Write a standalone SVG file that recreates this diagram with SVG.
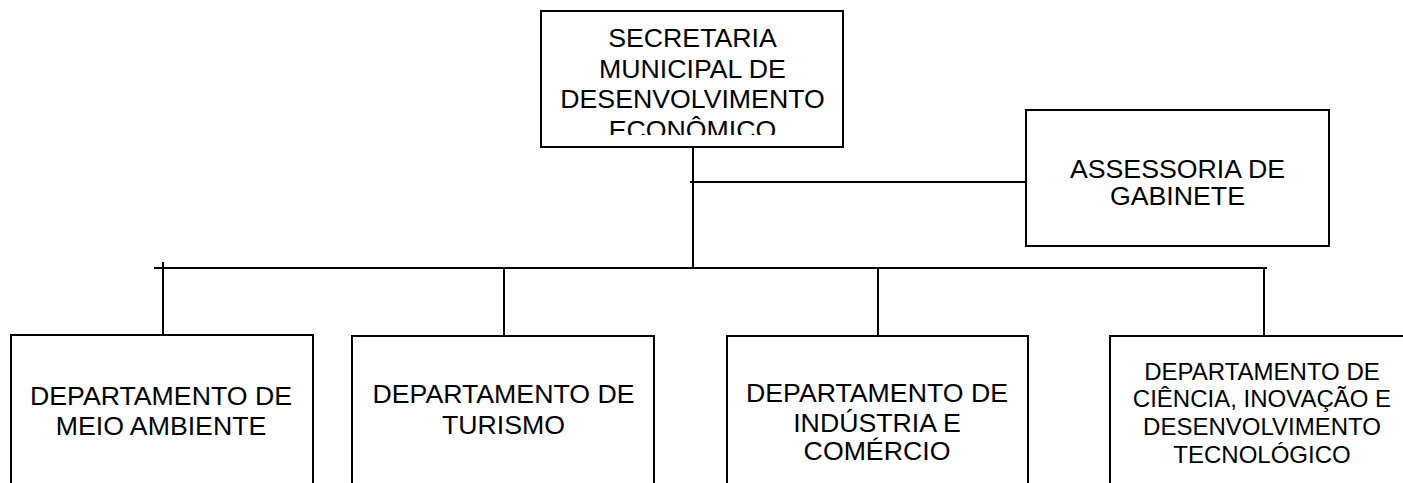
<svg xmlns="http://www.w3.org/2000/svg" width="1403" height="483" viewBox="0 0 1403 483">
<style>
.box{fill:#fff;stroke:#000;stroke-width:2}
.ln{stroke:#000;stroke-width:2;fill:none}
text{font-family:"Liberation Sans",Arial,sans-serif;font-size:26.7px;fill:#000;text-anchor:middle}
.sm{font-size:24px}
</style>
<defs>
<clipPath id="clipTop"><rect x="542" y="12" width="300" height="123"/></clipPath>
</defs>
<g id="connectors">
<line class="ln" x1="693" y1="147" x2="693" y2="268"/>
<line class="ln" x1="690" y1="182" x2="1026" y2="182"/>
<line class="ln" x1="154" y1="268" x2="1267" y2="268"/>
<line class="ln" x1="163" y1="262" x2="163" y2="335"/>
<line class="ln" x1="504" y1="268" x2="504" y2="336"/>
<line class="ln" x1="878" y1="268" x2="878" y2="336"/>
<line class="ln" x1="1264" y1="268" x2="1264" y2="335"/>
</g>
<g id="secretaria">
<rect class="box" x="541" y="11" width="302" height="136"/>
<g clip-path="url(#clipTop)">
<text x="692.5" y="47">SECRETARIA</text>
<text x="692.5" y="78">MUNICIPAL DE</text>
<text x="692.5" y="108">DESENVOLVIMENTO</text>
<text x="692.5" y="139">ECONÔMICO</text>
</g>
</g>
<g id="assessoria">
<rect class="box" x="1026" y="110" width="303" height="136"/>
<text x="1177.5" y="178">ASSESSORIA DE</text>
<text x="1177.5" y="205">GABINETE</text>
</g>
<g id="meio-ambiente">
<rect class="box" x="11" y="335" width="302" height="160"/>
<text x="161" y="405">DEPARTAMENTO DE</text>
<text x="161" y="435">MEIO AMBIENTE</text>
</g>
<g id="turismo">
<rect class="box" x="352" y="336" width="302" height="160"/>
<text x="503.5" y="403">DEPARTAMENTO DE</text>
<text x="503.5" y="434">TURISMO</text>
</g>
<g id="industria">
<rect class="box" x="727" y="336" width="301" height="160"/>
<text x="877" y="402">DEPARTAMENTO DE</text>
<text x="877" y="432">INDÚSTRIA E</text>
<text x="877" y="460">COMÉRCIO</text>
</g>
<g id="ciencia">
<rect class="box" x="1110" y="336" width="302" height="160"/>
<text class="sm" x="1262" y="380">DEPARTAMENTO DE</text>
<text class="sm" x="1262" y="407">CIÊNCIA, INOVAÇÃO E</text>
<text class="sm" x="1262" y="435">DESENVOLVIMENTO</text>
<text class="sm" x="1262" y="463">TECNOLÓGICO</text>
</g>
</svg>
